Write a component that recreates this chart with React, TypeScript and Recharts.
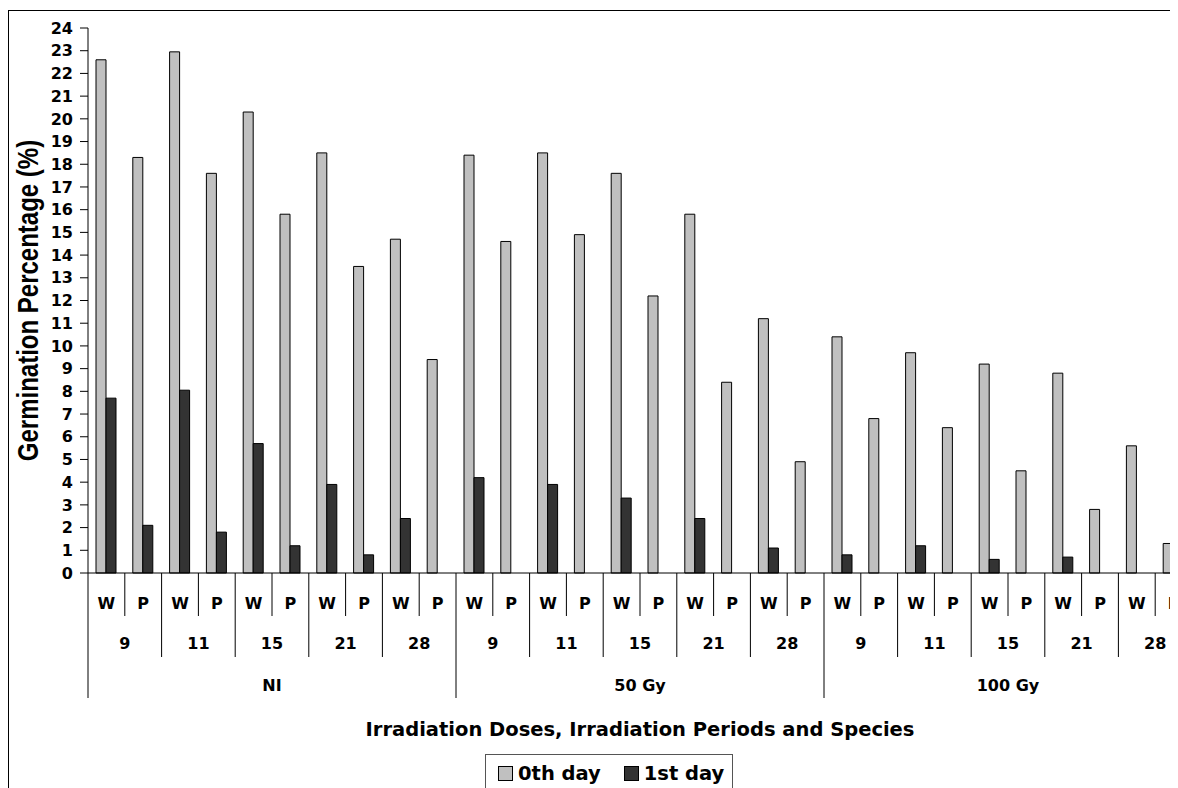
import React from 'react';
import { BarChart, Bar, XAxis, YAxis, Legend } from 'recharts';

// ---- data ----
const doses = ['NI', '50 Gy', '100 Gy'];
const periods = ['9', '11', '15', '21', '28'];
const species = ['W', 'P'];

const day0 = [
  22.6, 18.3, 22.95, 17.6, 20.3, 15.8, 18.5, 13.5, 14.7, 9.4,
  18.4, 14.6, 18.5, 14.9, 17.6, 12.2, 15.8, 8.4, 11.2, 4.9,
  10.4, 6.8, 9.7, 6.4, 9.2, 4.5, 8.8, 2.8, 5.6, 1.3,
];
const day1 = [
  7.7, 2.1, 8.05, 1.8, 5.7, 1.2, 3.9, 0.8, 2.4, null,
  4.2, null, 3.9, null, 3.3, null, 2.4, null, 1.1, null,
  0.8, null, 1.2, null, 0.6, null, 0.7, null, null, null,
];
const yTicks = [0, 1, 2, 3, 4, 5, 6, 7, 8, 9, 10, 11, 12, 13, 14, 15, 16, 17, 18, 19, 20, 21, 22, 23, 24];
const seriesNames = ['0th day', '1st day'];

const cats = doses.flatMap((d) =>
  periods.flatMap((p) => species.map((s) => ({ dose: d, period: p, species: s })))
);
const data = cats.map((c, i) => ({
  ...c,
  key: `${c.dose}|${c.period}|${c.species}`,
  day0: day0[i],
  day1: day1[i],
}));

// ---- layout ----
const CHART_W = 1200;
const CHART_H = 800;
const MARGIN = { top: 20, right: 16, left: 0, bottom: 0 };
const Y_W = 80;
const X_H = 235;
const PLOT_W = CHART_W - MARGIN.left - MARGIN.right - Y_W;
const PLOT_H = CHART_H - MARGIN.top - MARGIN.bottom - X_H;
const BAND = PLOT_W / data.length;

const FONT = "'DejaVu Sans', sans-serif";
const GRAY = '#c0c0c0';
const DARK = '#333333';

const textStyle = { fontFamily: FONT, fontWeight: 700, fontSize: 16, fill: '#000' } as const;

const XTick = (props: any) => {
  const { x, y } = props;
  const index = props.index ?? props.payload?.index ?? 0;
  const c = data[index];
  if (!c) return null;
  const left = x - BAND / 2;
  const len = index % 10 === 0 ? 125 : index % 2 === 0 ? 84 : 43;
  return (
    <g>
      <line x1={left} x2={left} y1={y} y2={y + len} stroke="#000" strokeWidth={1} />
      {index === data.length - 1 && (
        <line x1={x + BAND / 2} x2={x + BAND / 2} y1={y} y2={y + 125} stroke="#000" strokeWidth={1} />
      )}
      <text x={x} y={y + 35.5} textAnchor="middle" style={textStyle}>
        {c.species}
      </text>
      {index % 2 === 0 && (
        <text x={x + BAND / 2} y={y + 76} textAnchor="middle" style={textStyle}>
          {c.period}
        </text>
      )}
      {index % 10 === 4 && (
        <text x={x + BAND / 2} y={y + 117.5} textAnchor="middle" style={textStyle}>
          {c.dose}
        </text>
      )}
    </g>
  );
};

const XTitle = () => (
  <text
    x={MARGIN.left + Y_W + PLOT_W / 2}
    y={MARGIN.top + PLOT_H + 163}
    textAnchor="middle"
    style={{ fontFamily: FONT, fontWeight: 700, fontSize: 19.5, fill: '#000' }}
  >
    Irradiation Doses, Irradiation Periods and Species
  </text>
);

const YTitle = () => (
  <text
    transform={`translate(20, ${MARGIN.top + PLOT_H / 2}) scale(1.2, 1) rotate(-90)`}
    y={8.5}
    textAnchor="middle"
    style={{ fontFamily: "'Liberation Sans', Arial, sans-serif", fontWeight: 700, fontSize: 24, fill: '#000' }}
  >
    Germination Percentage (%)
  </text>
);

const LegendBox = () => (
  <div
    style={{
      boxSizing: 'border-box',
      width: 248,
      height: 60,
      border: '1px solid #555',
      background: '#fff',
      display: 'flex',
      alignItems: 'flex-start',
      paddingLeft: 12,
      paddingTop: 9,
      fontFamily: FONT,
      fontWeight: 700,
      fontSize: 19.5,
      lineHeight: '20px',
      color: '#000',
      whiteSpace: 'nowrap',
    }}
  >
    {[GRAY, DARK].map((col, i) => (
      <div key={i} style={{ display: 'flex', alignItems: 'flex-start', marginLeft: i === 0 ? 0 : 23 }}>
        <span
          style={{
            display: 'inline-block',
            boxSizing: 'border-box',
            width: 15,
            height: 15,
            marginTop: 2,
            background: col,
            border: '1px solid #000',
          }}
        />
        <span style={{ marginLeft: 5 }}>{seriesNames[i]}</span>
      </div>
    ))}
  </div>
);

export default function App() {
  return (
    <div style={{ position: 'relative', width: 1170, height: 780, overflow: 'hidden', background: '#fff' }}>
      <style>{'html{overflow:hidden;background:#fff}'}</style>
      <BarChart width={CHART_W} height={CHART_H} data={data} margin={MARGIN} barSize={10} barGap={0}>
        <XAxis
          dataKey="key"
          type="category"
          height={X_H}
          interval={0}
          tickSize={0}
          tickMargin={0}
          tickLine={false}
          axisLine={{ stroke: '#000', strokeWidth: 1 }}
          tick={<XTick />}
          label={<XTitle />}
        />
        <YAxis
          width={Y_W}
          domain={[0, 24]}
          ticks={yTicks}
          interval={0}
          tickSize={8}
          tickMargin={7}
          axisLine={{ stroke: '#000', strokeWidth: 1 }}
          tickLine={{ stroke: '#000', strokeWidth: 1 }}
          tick={{ fontFamily: FONT, fontWeight: 700, fontSize: 16, fill: '#000' }}
          label={<YTitle />}
        />
        <Legend
          layout="horizontal"
          verticalAlign="middle"
          align="center"
          wrapperStyle={{ left: 477, top: 746, width: 248, height: 60 }}
          content={<LegendBox />}
        />
        <Bar dataKey="day0" name={seriesNames[0]} fill={GRAY} stroke="#000" strokeWidth={1} isAnimationActive={false} />
        <Bar dataKey="day1" name={seriesNames[1]} fill={DARK} stroke="#000" strokeWidth={1} isAnimationActive={false} />
      </BarChart>
      <div
        style={{
          position: 'absolute',
          left: -0.5,
          top: 2,
          width: 1400,
          height: 1000,
          border: '1.5px solid #000',
          pointerEvents: 'none',
        }}
      />
    </div>
  );
}
